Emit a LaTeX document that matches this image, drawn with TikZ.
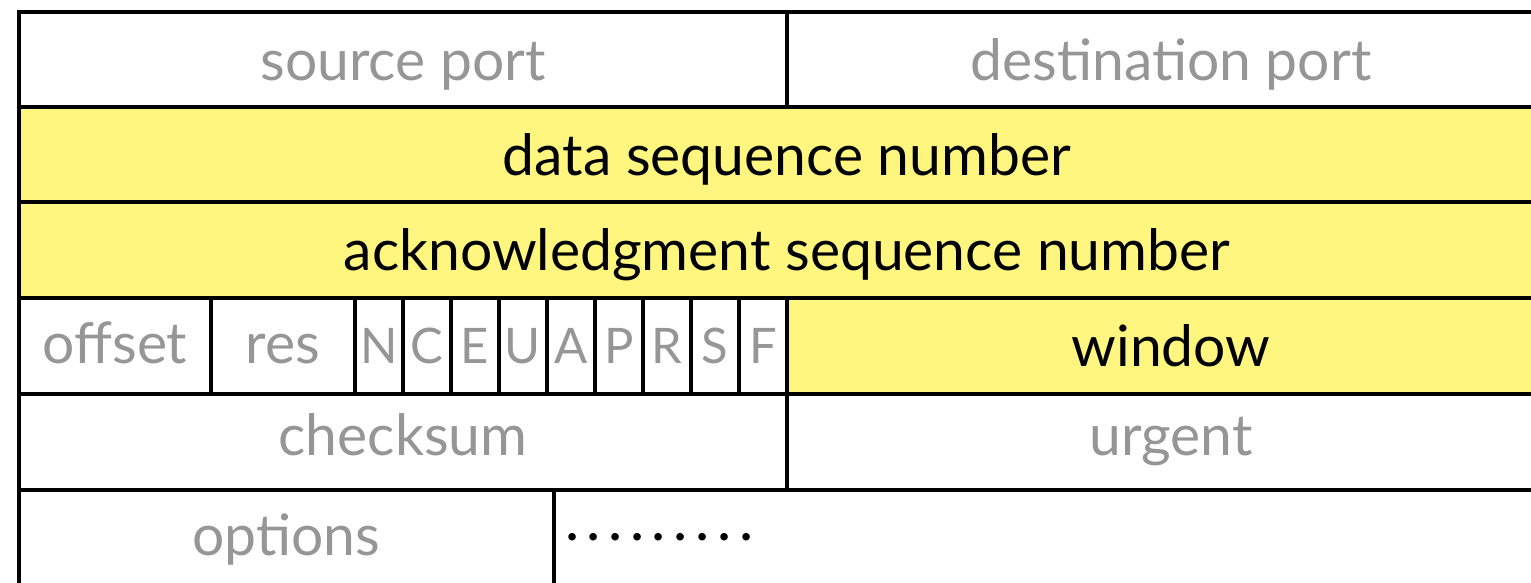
\documentclass[tikz,border=0pt]{standalone}
\usepackage{fontspec}
\setmainfont{Lato}
\usepackage{tikz}

\definecolor{seqyellow}{RGB}{255,246,128}
\definecolor{fieldgray}{RGB}{150,150,150}

\begin{document}
\begin{tikzpicture}[x=1pt,y=-1pt]
\tikzstyle{field}=[draw, line width=4.5pt, rectangle, inner sep=0pt, outer sep=0pt, anchor=north west,
	minimum height=96pt, text height=43pt, text depth=2pt, text=fieldgray, font=\fontsize{57}{66}\selectfont]
\tikzstyle{marked}=[fill=seqyellow, text=black]
\tikzstyle{flag}=[minimum width=48pt, text depth=9pt, font=\fontsize{49}{56}\selectfont]

\useasboundingbox (0,0) rectangle (1531,582);
\clip (0,0) rectangle (1531,582);

% ports
\node[field, minimum width=768pt] (srcport) at (19,12) {source port};
\node[field, minimum width=768pt] (dstport) at (787,12) {destination port};

% sequence numbers
\node[field, marked, minimum width=1536pt] (dataseq) at (19,107) {data sequence number};
\node[field, marked, minimum width=1536pt] (ackseq) at (19,202) {acknowledgment sequence number};

% offset, reserved bits and flags
\node[field, minimum width=192pt, text depth=9pt] (offset) at (19,298) {offset};
\node[field, minimum width=144pt, text depth=9pt] (res) at (211,298) {res};
\foreach \f [count=\i from 0] in {N,C,E,U,A,P,R,S,F}
	\node[field, flag] (flag\f) at (355+48*\i,298) {\f};
\node[field, marked, minimum width=768pt] (window) at (787,298) {window};

% checksum and urgent pointer
\node[field, minimum width=768pt, text depth=16pt] (checksum) at (19,394) {checksum};
\node[field, minimum width=768pt, text depth=16pt] (urgent) at (787,394) {urgent};

% options and padding
\node[field, minimum width=535pt, text depth=9pt] (options) at (19,490) {options};
\node[field, minimum width=1001pt] (padding) at (554,490) {};
\node[anchor=base west, inner sep=0pt, font=\fontsize{60}{66}\selectfont] (paddots) at (561,540)
	{\hbox to 195.75pt{\xleaders\hbox to 21.75pt{\hss.\hss}\hfill}};

\end{tikzpicture}
\end{document}
